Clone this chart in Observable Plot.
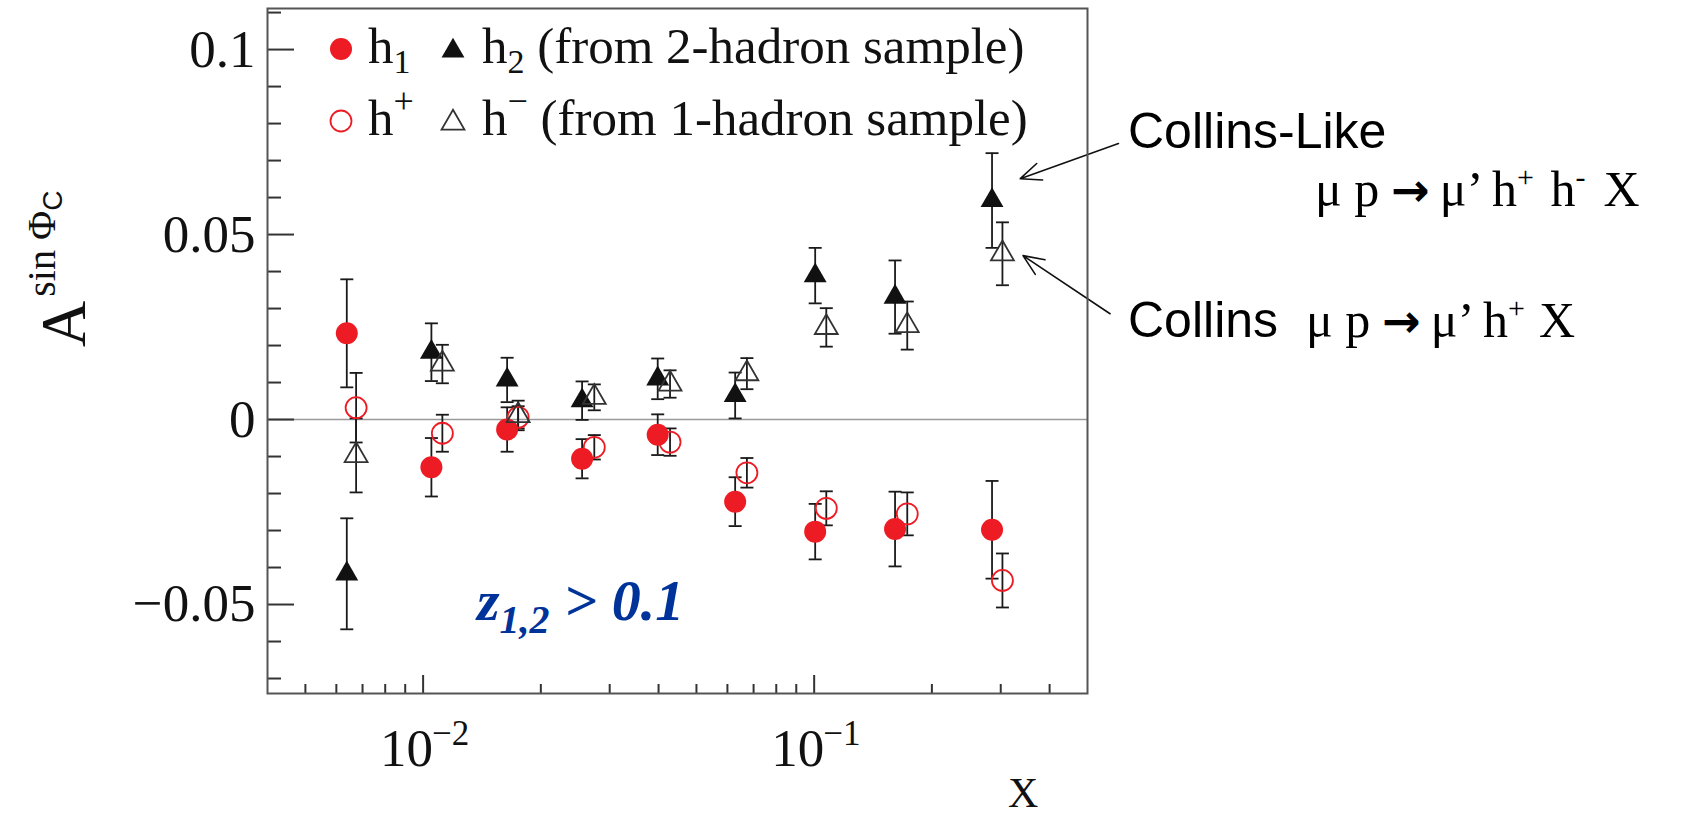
<!DOCTYPE html>
<html>
<head>
<meta charset="utf-8">
<script src="https://cdn.jsdelivr.net/npm/d3@7"></script>
<script src="https://cdn.jsdelivr.net/npm/@observablehq/plot@0.6"></script>
<style>
  html, body { margin: 0; padding: 0; background: #fff; overflow: hidden; }
  #wrap { position: relative; width: 1688px; height: 818px; }
  #wrap > svg { position: absolute; left: 0; top: 0; }
</style>
</head>
<body>
<div id="wrap"></div>
<script>
// ---- data ----
const xTwoHadron = [0.00638, 0.0105, 0.0164, 0.0255, 0.0398, 0.0628, 0.1006, 0.161, 0.285];
const xOneHadron = [0.00674, 0.0112, 0.0175, 0.0274, 0.0428, 0.0673, 0.1074, 0.173, 0.303];

const h1      = [0.0233, -0.0129, -0.0027, -0.0106, -0.0041, -0.0222, -0.0303, -0.0296, -0.0298];
const h1Err   = [0.0146, 0.0079, 0.0060, 0.0053, 0.0055, 0.0066, 0.0075, 0.0101, 0.0132];
const h2      = [-0.0417, 0.0182, 0.0107, 0.0051, 0.0110, 0.0065, 0.0389, 0.0331, 0.0592];
const h2Err   = [0.0150, 0.0078, 0.0060, 0.0052, 0.0055, 0.0062, 0.0075, 0.0099, 0.0128];
const hPlus   = [0.0032, -0.0037, 0.0006, -0.0075, -0.0061, -0.0144, -0.0240, -0.0255, -0.0435];
const hPlusErr  = [0.0094, 0.0050, 0.0030, 0.0033, 0.0037, 0.0040, 0.0046, 0.0058, 0.0073];
const hMinus  = [-0.0097, 0.0150, 0.0011, 0.0060, 0.0096, 0.0124, 0.0249, 0.0254, 0.0448];
const hMinusErr = [0.0100, 0.0052, 0.0040, 0.0035, 0.0037, 0.0042, 0.0052, 0.0065, 0.0085];

// axis ticks
const yMajorTicks = [-0.05, 0, 0.05, 0.1];
const yMinorTicks = [-0.07, -0.06, -0.04, -0.03, -0.02, -0.01, 0.01, 0.02, 0.03, 0.04, 0.06, 0.07, 0.08, 0.09, 0.11];
const xMajorTicks = [0.01, 0.1];
const xMinorTicks = [0.005, 0.006, 0.007, 0.008, 0.009, 0.02, 0.03, 0.04, 0.05, 0.06, 0.07, 0.08, 0.09, 0.2, 0.3, 0.4];

// annotation arrows (data units)
const annotArrows = [
  {x1: 0.600, y1: 0.0746, x2: 0.3365, y2: 0.0651},
  {x1: 0.571, y1: 0.0286, x2: 0.342, y2: 0.0443}
];

// ---- build tables ----
const mk = (xs, ys, es, series) => xs.map((x, i) => ({x, y: ys[i], err: es[i], series}));
const rowsH1 = mk(xTwoHadron, h1, h1Err, "h1");
const rowsH2 = mk(xTwoHadron, h2, h2Err, "h2");
const rowsHp = mk(xOneHadron, hPlus, hPlusErr, "h+");
const rowsHm = mk(xOneHadron, hMinus, hMinusErr, "h-");
const allRows = [...rowsH1, ...rowsH2, ...rowsHp, ...rowsHm];

const RED = "#ed1c24";
const capSymbol = {
  draw(ctx, size) { const w = Math.sqrt(size / Math.PI); ctx.moveTo(-w, 0); ctx.lineTo(w, 0); }
};

const W = 1688, H = 818;
const mL = 267, mR = 601, mT = 8, mB = 125;
const frameW = W - mL - mR, frameH = H - mT - mB;

const chart = Plot.plot({
  width: W, height: H,
  marginLeft: mL, marginRight: mR, marginTop: mT, marginBottom: mB,
  x: {type: "log", domain: [0.004, 0.5], axis: null},
  y: {domain: [-0.07405, 0.1111], axis: null},
  style: {fontFamily: "'Liberation Serif', 'Times New Roman', serif", background: "white", overflow: "visible"},
  marks: [
    Plot.ruleY([0], {stroke: "#9a9a9a", strokeWidth: 1.5}),
    // axis ticks (inward)
    Plot.tickY(yMajorTicks, {y: d => d, insetRight: frameW - 27, stroke: "#333", strokeWidth: 2}),
    Plot.tickY(yMinorTicks, {y: d => d, insetRight: frameW - 14, stroke: "#333", strokeWidth: 2}),
    Plot.tickX(xMajorTicks, {x: d => d, insetTop: frameH - 18, stroke: "#333", strokeWidth: 2}),
    Plot.tickX(xMinorTicks, {x: d => d, insetTop: frameH - 9, stroke: "#333", strokeWidth: 2}),
    // y tick labels
    Plot.text(yMajorTicks, {
      y: d => d, frameAnchor: "left", textAnchor: "end", dx: -12, fontSize: 53, fill: "#111",
      text: d => d === 0 ? "0" : (d < 0 ? "\u2212" : "") + String(Math.abs(d))
    }),
    // x tick labels 10^n
    Plot.text(xMajorTicks, {x: d => d, frameAnchor: "bottom", textAnchor: "end", dx: 10, dy: 72, fontSize: 53, fill: "#111", text: () => "10"}),
    Plot.text(xMajorTicks, {x: d => d, frameAnchor: "bottom", textAnchor: "start", dx: 9, dy: 51, fontSize: 35, fill: "#111",
      text: d => "\u2212" + Math.round(Math.abs(Math.log10(d)))}),
    // error bars
    Plot.ruleX(allRows, {x: "x", y1: d => d.y - d.err, y2: d => d.y + d.err, stroke: "#1a1a1a", strokeWidth: 1.8}),
    Plot.dot(allRows, {x: "x", y: d => d.y + d.err, symbol: capSymbol, r: 6.5, fill: "none", stroke: "#1a1a1a", strokeWidth: 1.8}),
    Plot.dot(allRows, {x: "x", y: d => d.y - d.err, symbol: capSymbol, r: 6.5, fill: "none", stroke: "#1a1a1a", strokeWidth: 1.8}),
    // markers
    Plot.dot(rowsH1, {x: "x", y: "y", symbol: "circle", r: 11, fill: RED, stroke: "none"}),
    Plot.dot(rowsH2, {x: "x", y: "y", symbol: "triangle", r: 8.5, fill: "#111", stroke: "none"}),
    Plot.dot(rowsHp, {x: "x", y: "y", symbol: "circle", r: 10.5, fill: "none", stroke: RED, strokeWidth: 1.8}),
    Plot.dot(rowsHm, {x: "x", y: "y", symbol: "triangle", r: 8.5, fill: "none", stroke: "#333", strokeWidth: 1.8}),
    // annotation arrows
    Plot.arrow(annotArrows, {x1: "x1", y1: "y1", x2: "x2", y2: "y2", stroke: "#111", strokeWidth: 1.6, headLength: 21, headAngle: 46}),
    Plot.frame({stroke: "#555", strokeWidth: 2})
  ]
});
document.getElementById("wrap").appendChild(chart);

// ---- overlay: legend, axis titles, annotations ----
const ov = d3.select("#wrap").append("svg")
  .attr("width", W).attr("height", H)
  .style("pointer-events", "none");

const SERIF = "'Liberation Serif', 'Times New Roman', serif";
const SANS = "'Liberation Sans', Arial, sans-serif";
const ARROWF = "'DejaVu Sans', sans-serif";

function richText(g, x, y, parts, base) {
  const t = g.append("text").attr("x", x).attr("y", y)
    .attr("font-family", base.family).attr("font-size", base.size)
    .attr("fill", base.fill || "#111");
  if (base.weight) t.attr("font-weight", base.weight);
  if (base.style) t.attr("font-style", base.style);
  for (const p of parts) {
    const s = t.append("tspan").text(p.t);
    if (p.size) s.attr("font-size", p.size);
    if (p.dy) s.attr("dy", p.dy);
    if (p.dx) s.attr("dx", p.dx);
    if (p.family) s.attr("font-family", p.family);
    if (p.weight) s.attr("font-weight", p.weight);
  }
  return t;
}

// legend
const lg = ov.append("g");
lg.append("circle").attr("cx", 341).attr("cy", 49).attr("r", 11).attr("fill", RED);
lg.append("path").attr("d", d3.symbol(d3.symbolTriangle, 8.5 * 8.5 * Math.PI)()).attr("transform", "translate(453,51)").attr("fill", "#111");
lg.append("circle").attr("cx", 341).attr("cy", 121).attr("r", 10.5).attr("fill", "none").attr("stroke", RED).attr("stroke-width", 1.8);
lg.append("path").attr("d", d3.symbol(d3.symbolTriangle, 8.5 * 8.5 * Math.PI)()).attr("transform", "translate(453,123)").attr("fill", "none").attr("stroke", "#333").attr("stroke-width", 1.8);
const LF = {family: SERIF, size: 51};
richText(lg, 368, 63, [{t: "h"}, {t: "1", size: 34, dy: 10}], LF);
richText(lg, 482, 63, [{t: "h"}, {t: "2", size: 34, dy: 10}, {t: " (from 2-hadron sample)", dy: -10, size: 51}], LF);
richText(lg, 368, 135, [{t: "h"}, {t: "+", size: 36, dy: -22}], LF);
richText(lg, 482, 135, [{t: "h"}, {t: "\u2212", size: 36, dy: -22}, {t: " (from 1-hadron sample)", dy: 22, size: 51}], LF);

// y axis title (rotated)
const yt = ov.append("g").attr("transform", "translate(85,347) rotate(-90)");
richText(yt, 0, 0, [{t: "A"}, {t: "sin \u03A6", size: 40, dy: -30, dx: 4}, {t: "C", size: 28, dy: 7, family: SANS}], {family: SERIF, size: 64});

// x axis title
richText(ov, 1008, 807, [{t: "X"}], {family: SERIF, size: 42});

// z cut label
richText(ov, 477, 620, [{t: "z"}, {t: "1,2", size: 40, dy: 13}, {t: " > 0.1", size: 58, dy: -13}],
  {family: SERIF, size: 58, weight: "bold", style: "italic", fill: "#003399"});

// right annotations
richText(ov, 1128, 148, [{t: "Collins-Like"}], {family: SANS, size: 50, fill: "#000"});
richText(ov, 1315, 206, [
  {t: "\u03BC p"}, {t: "\u2192", family: ARROWF, weight: "bold", size: 46, dx: 12},
  {t: "\u03BC\u2019 h", size: 50, dx: 10}, {t: "+", size: 30, dy: -19}, {t: " h", size: 50, dy: 19, dx: 4}, {t: "-", size: 30, dy: -19}, {t: "X", size: 50, dy: 19, dx: 18}
], {family: SERIF, size: 50, fill: "#000"});
richText(ov, 1128, 337, [{t: "Collins"}], {family: SANS, size: 50, fill: "#000"});
richText(ov, 1306, 337, [
  {t: "\u03BC p"}, {t: "\u2192", family: ARROWF, weight: "bold", size: 46, dx: 12},
  {t: "\u03BC\u2019 h", size: 50, dx: 10}, {t: "+", size: 30, dy: -19}, {t: "X", size: 50, dy: 19, dx: 14}
], {family: SERIF, size: 50, fill: "#000"});
</script>
</body>
</html>
